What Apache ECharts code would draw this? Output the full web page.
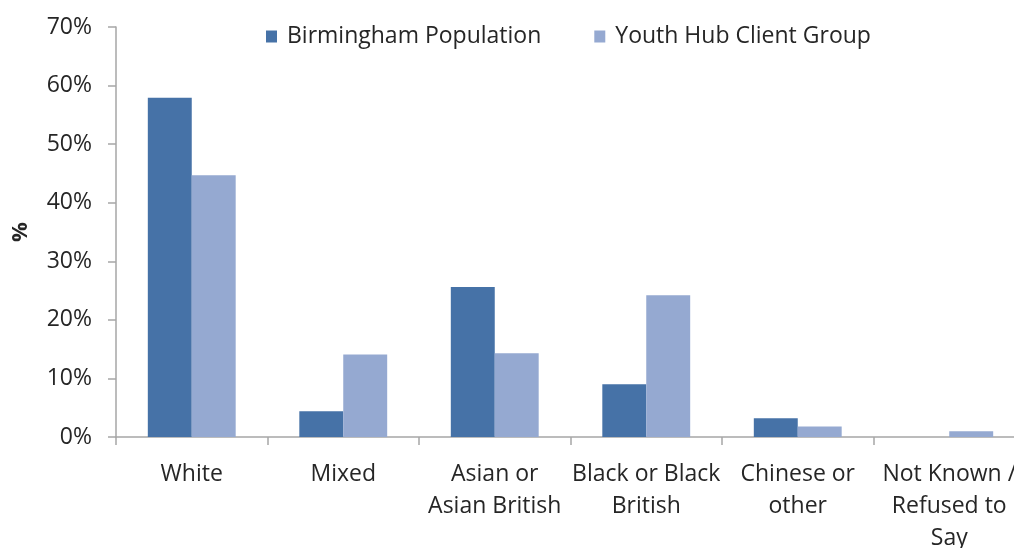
<!DOCTYPE html>
<html>
<head>
<meta charset="utf-8">
<script src="https://cdn.jsdelivr.net/npm/echarts@6/dist/echarts.min.js"></script>
<style>
  html, body { margin: 0; padding: 0; background: #ffffff; }
  #chart { width: 1014px; height: 548px; }
</style>
</head>
<body>
<div id="chart"></div>
<script>
// Ethnic group categories (line breaks mark where the labels wrap)
const categories = [
  'White',
  'Mixed',
  'Asian or\nAsian British',
  'Black or Black\nBritish',
  'Chinese or\nother',
  'Not Known /\nRefused to\nSay'
];

// Share of each group, in percent
const birminghamPopulation = [57.9, 4.4, 25.6, 9.0, 3.2, 0];
const youthHubClientGroup = [44.7, 14.1, 14.3, 24.2, 1.8, 1.0];

const seriesNames = ['Birmingham Population', 'Youth Hub Client Group'];
const yTicks = { min: 0, max: 70, interval: 10 };

const FONT = '"Open Sans", "Noto Sans", sans-serif';
const FS = 23;
const TEXT = '#262626';
const AXIS = '#a6a6a6';

const chart = echarts.init(document.getElementById('chart'), null, { renderer: 'canvas' });

chart.setOption({
  animation: false,
  backgroundColor: '#ffffff',
  textStyle: { fontFamily: FONT },
  legend: {
    left: 261,
    top: 20,
    itemWidth: 11,
    itemHeight: 12,
    itemGap: 53,
    icon: 'rect',
    textStyle: { fontFamily: FONT, fontSize: FS, color: TEXT, padding: [0, 0, 0, 5] },
    data: seriesNames
  },
  grid: {
    left: 116, top: 27, width: 909, height: 410,
    containLabel: false,
    outerBoundsMode: 'none'
  },
  xAxis: {
    type: 'category',
    data: categories,
    axisLine: { lineStyle: { color: AXIS, width: 1.5 } },
    axisTick: { show: true, length: 8, alignWithLabel: false, lineStyle: { color: AXIS, width: 1.5 } },
    axisLabel: {
      interval: 0,
      margin: 21,
      fontFamily: FONT,
      fontSize: FS,
      color: TEXT,
      lineHeight: 32,
      align: 'center'
    },
    splitLine: { show: false }
  },
  yAxis: {
    type: 'value',
    min: yTicks.min,
    max: yTicks.max,
    interval: yTicks.interval,
    name: '%',
    nameLocation: 'middle',
    nameRotate: 90,
    nameGap: 84,
    nameTextStyle: { fontFamily: FONT, fontSize: 22, fontWeight: 'bold', color: TEXT },
    axisLine: { show: true, lineStyle: { color: AXIS, width: 1.5 } },
    axisTick: { show: true, length: 8, lineStyle: { color: AXIS, width: 1.5 } },
    axisLabel: {
      margin: 24,
      fontFamily: FONT,
      fontSize: FS,
      color: TEXT,
      formatter: v => v + '%'
    },
    splitLine: { show: false }
  },
  series: [
    {
      name: seriesNames[0],
      type: 'bar',
      data: birminghamPopulation,
      barGap: '0%',
      barCategoryGap: '42%',
      itemStyle: { color: '#4672a7' }
    },
    {
      name: seriesNames[1],
      type: 'bar',
      data: youthHubClientGroup,
      barGap: '0%',
      barCategoryGap: '42%',
      itemStyle: { color: '#95a9d1' }
    }
  ]
});
</script>
</body>
</html>
